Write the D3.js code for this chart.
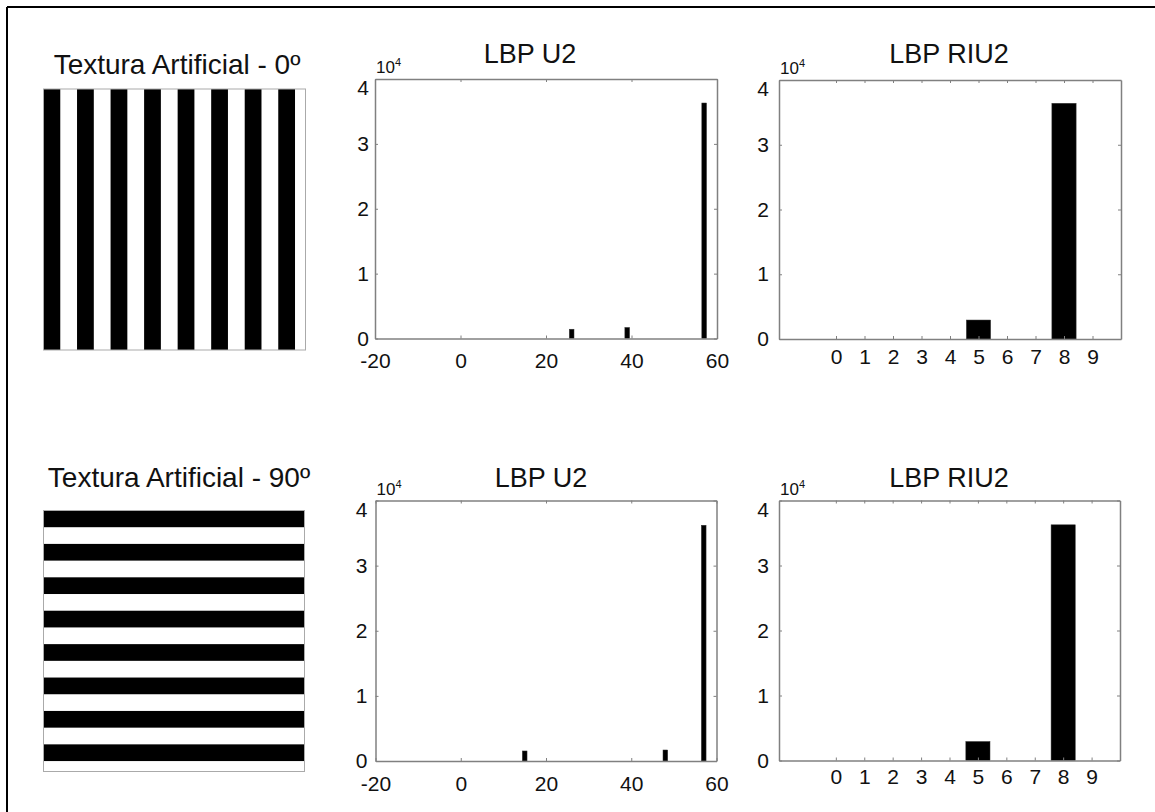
<!DOCTYPE html>
<html>
<head>
<meta charset="utf-8">
<script src="https://cdn.jsdelivr.net/npm/d3@7"></script>
<style>
  body { margin: 0; background: #fff; }
  svg { display: block; font-family: "Liberation Sans", Arial, sans-serif; }
  .tick text { fill: #111; }
</style>
</head>
<body>
<svg id="fig" width="1155" height="812"></svg>
<script>
// texture images (source pixels)
const textureSize = 250;
const stripeWidth = 16;
const stripeStarts = [0, 32, 64, 96, 128, 160, 192, 224];

// LBP U2 histograms (only non-zero bins)
const u2Bins0 = [26, 39, 57];
const u2Counts0 = [1430, 1700, 36300];
const u2Bins90 = [15, 48, 57];
const u2Counts90 = [1540, 1690, 36200];

// LBP RIU2 histograms
const riu2Bins = [0, 1, 2, 3, 4, 5, 6, 7, 8, 9];
const riu2Counts0 = [0, 0, 0, 0, 0, 2930, 0, 0, 36400, 0];
const riu2Counts90 = [0, 0, 0, 0, 0, 2920, 0, 0, 36260, 0];

// tick labels
const u2Ticks = [-20, 0, 20, 40, 60];
const riu2Ticks = [0, 1, 2, 3, 4, 5, 6, 7, 8, 9];
const countTicks = [0, 10000, 20000, 30000, 40000];

const svg = d3.select("#fig");

// outer frame (top + left)
svg.append("line").attr("x1", 7).attr("x2", 1155).attr("y1", 7).attr("y2", 7)
    .attr("stroke", "#000").attr("stroke-width", 2);
svg.append("line").attr("x1", 7).attr("x2", 7).attr("y1", 7).attr("y2", 812)
    .attr("stroke", "#000").attr("stroke-width", 2);

// Textures

function drawTexture(box, title, horizontal) {
    const g = svg.append("g");
    const sx = d3.scaleLinear().domain([0, textureSize]).range([box.x0, box.x1]);
    const sy = d3.scaleLinear().domain([0, textureSize]).range([box.y0, box.y1]);

    g.append("rect")
        .attr("x", box.x0).attr("y", box.y0)
        .attr("width", box.x1 - box.x0).attr("height", box.y1 - box.y0)
        .attr("fill", "#fff");

    g.selectAll(".stripe")
        .data(stripeStarts)
        .enter()
        .append("rect")
        .attr("class", "stripe")
        .attr("x", d => horizontal ? box.x0 : sx(d))
        .attr("y", d => horizontal ? sy(d) : box.y0)
        .attr("width", d => horizontal ? box.x1 - box.x0 : sx(Math.min(d + stripeWidth, textureSize)) - sx(d))
        .attr("height", d => horizontal ? sy(Math.min(d + stripeWidth, textureSize)) - sy(d) : box.y1 - box.y0)
        .attr("fill", "#000");

    g.append("rect")
        .attr("x", box.x0).attr("y", box.y0)
        .attr("width", box.x1 - box.x0).attr("height", box.y1 - box.y0)
        .attr("fill", "none")
        .attr("stroke", "#aaa")
        .attr("stroke-width", 1);

    g.append("text")
        .attr("x", box.tx)
        .attr("y", box.ty)
        .style("text-anchor", "middle")
        .style("font-size", "28px")
        .attr("fill", "#111")
        .text(title);
}

drawTexture({ x0: 43.5, x1: 305.5, y0: 89, y1: 350, tx: 177, ty: 74 }, "Textura Artificial - 0º", false);
drawTexture({ x0: 43.5, x1: 304.5, y0: 510.5, y1: 771.5, tx: 179, ty: 487 }, "Textura Artificial - 90º", true);

// Histograms

function drawHist(p) {
    const g = svg.append("g");

    const x = d3.scaleLinear().domain(p.xDomain).range([p.left, p.right]);
    const y = d3.scaleLinear().domain([0, 40000]).range([p.bottom, p.top]);

    const unit = x(1) - x(0);

    g.selectAll(".bar")
        .data(p.bins.map((b, i) => ({ bin: b, count: p.counts[i] })).filter(d => d.count > 0))
        .enter()
        .append("rect")
        .attr("class", "bar")
        .attr("x", d => x(d.bin) - unit * p.barWidth / 2)
        .attr("y", d => y(d.count))
        .attr("width", unit * p.barWidth)
        .attr("height", d => p.bottom - y(d.count))
        .attr("fill", "#000")
        .attr("stroke", "#333")
        .attr("stroke-width", 0.5);

    const axisColor = "#808080";

    // bottom axis with labels
    const xAxis = d3.axisBottom(x).tickValues(p.xTicks).tickSizeInner(-3).tickSizeOuter(0)
        .tickPadding(p.xPad).tickFormat(d => String(d));
    const gx = g.append("g")
        .attr("transform", "translate(0," + p.bottom + ")")
        .call(xAxis);
    gx.selectAll("text").style("font-size", "21px").attr("fill", "#111");

    // top mirror
    const gxt = g.append("g")
        .attr("transform", "translate(0," + p.top + ")")
        .call(d3.axisTop(x).tickValues(p.xTicks).tickSizeInner(-3).tickSizeOuter(0).tickFormat(""));

    // left axis with labels
    const yAxis = d3.axisLeft(y).tickValues(countTicks).tickSizeInner(-3).tickSizeOuter(0)
        .tickPadding(p.yPad).tickFormat(d => String(d / 10000));
    const gy = g.append("g")
        .attr("transform", "translate(" + p.left + ",0)")
        .call(yAxis);
    gy.selectAll("text").style("font-size", "21px").attr("fill", "#111")
        .attr("dy", d => d === 40000 ? "0.75em" : "0.32em");

    // right mirror
    const gyr = g.append("g")
        .attr("transform", "translate(" + p.right + ",0)")
        .call(d3.axisRight(y).tickValues(countTicks).tickSizeInner(-3).tickSizeOuter(0).tickFormat(""));

    [gx, gxt, gy, gyr].forEach(a => {
        a.select(".domain").attr("stroke", axisColor).attr("stroke-width", 1.5);
        a.selectAll(".tick line").attr("stroke", axisColor);
    });

    // exponent label
    const exp = g.append("text")
        .attr("x", p.left + 1)
        .attr("y", p.top - 6)
        .style("font-size", "17px")
        .attr("fill", "#111")
        .text("10");
    exp.append("tspan")
        .attr("dy", -7)
        .style("font-size", "11px")
        .text("4");

    // title
    g.append("text")
        .attr("x", p.titleX)
        .attr("y", p.titleY)
        .style("text-anchor", "middle")
        .style("font-size", "27px")
        .attr("fill", "#111")
        .text(p.title);
}

drawHist({ title: "LBP U2", titleX: 530, titleY: 63, left: 375, right: 717, top: 79, bottom: 338.5,
    xDomain: [-20, 60], xTicks: u2Ticks, bins: u2Bins0, counts: u2Counts0, barWidth: 1.1, xPad: 15, yPad: 6 });
drawHist({ title: "LBP RIU2", titleX: 949, titleY: 63, left: 779, right: 1121, top: 80, bottom: 339,
    xDomain: [-2, 10], xTicks: riu2Ticks, bins: riu2Bins, counts: riu2Counts0, barWidth: 0.85, xPad: 10, yPad: 10 });
drawHist({ title: "LBP U2", titleX: 541, titleY: 487, left: 375.5, right: 716.5, top: 500.5, bottom: 761,
    xDomain: [-20, 60], xTicks: u2Ticks, bins: u2Bins90, counts: u2Counts90, barWidth: 1.1, xPad: 15, yPad: 8 });
drawHist({ title: "LBP RIU2", titleX: 949, titleY: 487, left: 779, right: 1120, top: 500.5, bottom: 760.5,
    xDomain: [-2, 10], xTicks: riu2Ticks, bins: riu2Bins, counts: riu2Counts90, barWidth: 0.85, xPad: 9, yPad: 10 });
</script>
</body>
</html>
